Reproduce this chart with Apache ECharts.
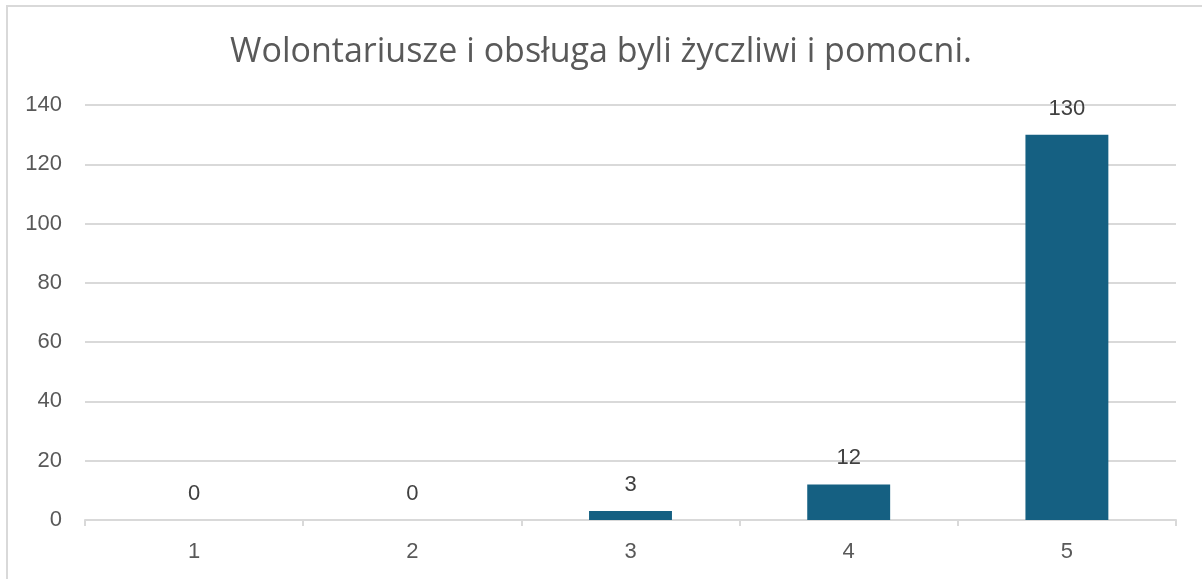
<!DOCTYPE html>
<html>
<head>
<meta charset="utf-8">
<script src="https://cdn.jsdelivr.net/npm/echarts@6/dist/echarts.min.js"></script>
<style>
    html, body { margin: 0; padding: 0; background: #fff; }
    #chart { width: 1202px; height: 579px; box-sizing: border-box; }
    #frame { position: absolute; left: 6px; top: 5px; width: 1196px; height: 574px; border: 2px solid #d9d9d9; box-sizing: border-box; border-right: none; border-bottom: none; pointer-events: none; }
</style>
</head>
<body>
<div id="chart"></div>
<div id="frame"></div>
<script>
// dane z ankiety
const chartTitle = 'Wolontariusze i obsługa byli życzliwi i pomocni.';
const categories = ['1', '2', '3', '4', '5'];
const answers = [0, 0, 3, 12, 130];
const yTicks = { min: 0, max: 140, step: 20 };

const chart = echarts.init(document.getElementById('chart'));
const option = {
    animation: false,
    title: {
        text: chartTitle,
        left: 'center',
        top: 30,
        textStyle: {
            fontFamily: 'Open Sans',
            fontWeight: 'normal',
            fontSize: 34,
            color: '#595959',
        },
    },
    grid: {
        left: 85,
        right: 26,
        top: 105,
        bottom: 59,
    },
    xAxis: {
        type: 'category',
        data: categories,
        axisLine: { lineStyle: { color: '#d9d9d9', width: 2 } },
        axisTick: { show: true, length: 6, lineStyle: { color: '#d9d9d9', width: 2 } },
        axisLabel: {
            margin: 21,
            fontFamily: 'Liberation Sans',
            fontSize: 22,
            color: '#595959',
        },
    },
    yAxis: {
        type: 'value',
        min: yTicks.min,
        max: yTicks.max,
        interval: yTicks.step,
        axisLine: { show: false },
        axisTick: { show: false },
        splitLine: { lineStyle: { color: '#d9d9d9', width: 2 } },
        axisLabel: {
            margin: 23,
            fontFamily: 'Liberation Sans',
            fontSize: 22,
            color: '#595959',
        },
    },
    series: [{
        type: 'bar',
        data: answers,
        barWidth: '38%',
        itemStyle: {
            color: '#156082',
        },
        label: {
            show: true,
            position: 'top',
            distance: 15,
            fontFamily: 'Liberation Sans',
            fontSize: 22,
            color: '#404040',
        },
    }],
};
chart.setOption(option);
</script>
</body>
</html>
